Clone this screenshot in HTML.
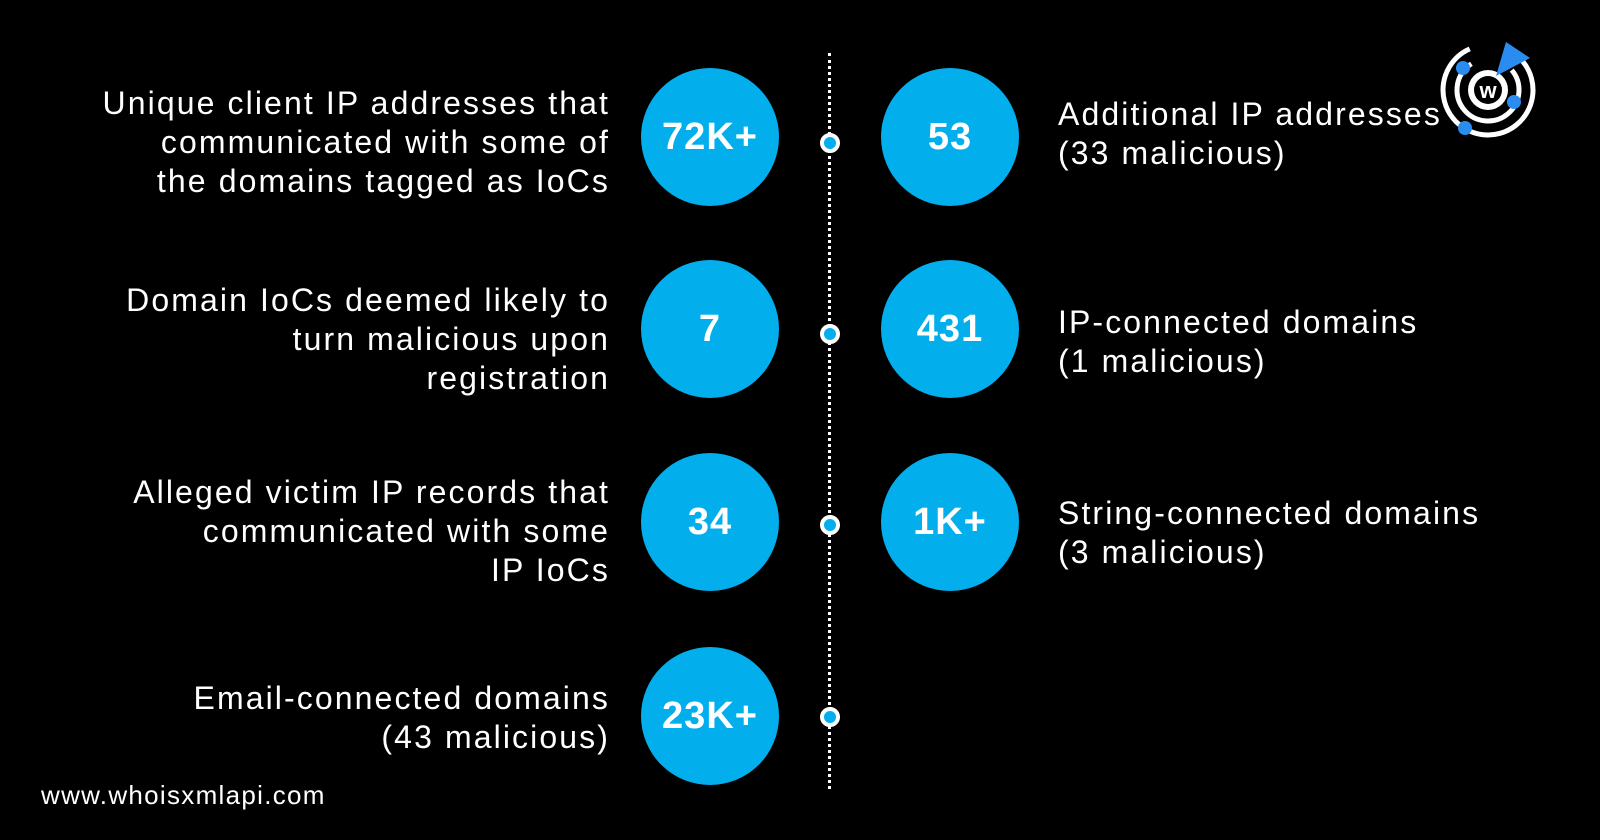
<!DOCTYPE html>
<html><head><style>
body{margin:0;width:1600px;height:840px;background:#000;overflow:hidden;position:relative;font-family:"Liberation Sans",sans-serif;color:#fff}
.c{position:absolute;width:138px;height:138px;border-radius:50%;background:#02aeec;color:#fff;font-weight:bold;font-size:38px;display:flex;align-items:center;justify-content:center;letter-spacing:1px}
.l{position:absolute;right:990px;text-align:right;font-size:32px;letter-spacing:2.1px;line-height:39px;width:640px}
.r{position:absolute;left:1058px;font-size:32px;letter-spacing:2.1px;line-height:39px;white-space:nowrap}
.d{position:absolute;left:820px;width:12px;height:12px;border:4px solid #fff;border-radius:50%;background:#02aeec}
</style></head><body>
<div style="position:absolute;left:828px;top:53px;height:736px;border-left:3px dotted #fff"></div>
<div class="d" style="top:133px"></div>
<div class="d" style="top:324px"></div>
<div class="d" style="top:515px"></div>
<div class="d" style="top:707px"></div>

<div class="c" style="left:641px;top:68px">72K+</div>
<div class="c" style="left:881px;top:68px">53</div>
<div class="c" style="left:641px;top:260px">7</div>
<div class="c" style="left:881px;top:260px">431</div>
<div class="c" style="left:641px;top:453px">34</div>
<div class="c" style="left:881px;top:453px">1K+</div>
<div class="c" style="left:641px;top:647px">23K+</div>

<div class="l" style="top:84px">Unique client IP addresses that<br>communicated with some of<br>the domains tagged as IoCs</div>
<div class="l" style="top:281px">Domain IoCs deemed likely to<br>turn malicious upon<br>registration</div>
<div class="l" style="top:473px">Alleged victim IP records that<br>communicated with some<br>IP IoCs</div>
<div class="l" style="top:679px">Email-connected domains<br>(43 malicious)</div>

<div class="r" style="top:95px">Additional IP addresses<br>(33 malicious)</div>
<div class="r" style="top:303px">IP-connected domains<br>(1 malicious)</div>
<div class="r" style="top:494px">String-connected domains<br>(3 malicious)</div>

<div style="position:absolute;left:41px;top:780px;font-size:26px;letter-spacing:1.3px">www.whoisxmlapi.com</div>

<svg style="position:absolute;left:1436px;top:36px" width="110" height="110" viewBox="0 0 110 110">
<circle cx="52" cy="54" r="45" fill="none" stroke="#fff" stroke-width="5" stroke-dasharray="240 44" transform="rotate(-60 52 54)"/>
<circle cx="52" cy="54" r="31" fill="none" stroke="#fff" stroke-width="5" stroke-dasharray="150 45" transform="rotate(-40 52 54)"/>
<circle cx="52" cy="54" r="20" fill="#fff"/>
<circle cx="52" cy="54" r="14" fill="#000"/>
<text x="52" y="62" text-anchor="middle" font-family="Liberation Sans" font-weight="bold" font-size="22" fill="#fff">w</text>
<polygon points="60,40 70,6 94,22" fill="#2b8cf0"/>
<circle cx="27" cy="32" r="7" fill="#2b8cf0"/>
<circle cx="78" cy="66" r="7" fill="#2b8cf0"/>
<circle cx="29" cy="92" r="7" fill="#2b8cf0"/>
</svg>
</body></html>
